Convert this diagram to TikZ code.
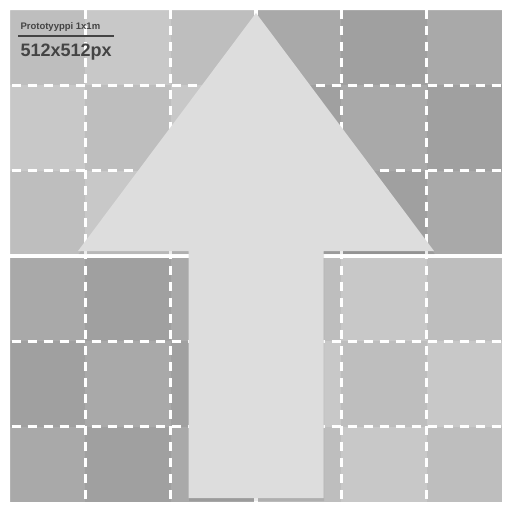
\documentclass[tikz,border=0pt]{standalone}
\usepackage{fontspec}
\setmainfont{Liberation Sans}
\usetikzlibrary{positioning}

\definecolor{arrowgray}{HTML}{DDDDDD}
\definecolor{inkgray}{HTML}{444444}

\begin{document}
\begin{tikzpicture}[x=1pt, y=-1pt,
    gridline/.style={white, line width=2.4pt, dash pattern=on 9pt off 7pt},
    midline/.style={white, line width=4pt},
    arrowbody/.style={fill=arrowgray},
    arrowshade/.style={fill=black, fill opacity=0.08},
    caption/.style={inkgray, inner sep=0pt, anchor=base west}]

    % Page
    \useasboundingbox (0,0) rectangle (512,512);
    \fill[white] (0,0) rectangle (512,512);

    % Tiles, 6 x 6
    \foreach \i in {0,...,5}{
        \foreach \j in {0,...,5}{
            \pgfmathtruncatemacro{\q}{mod(int(\i/3)+int(\j/3),2)}
            \pgfmathtruncatemacro{\p}{mod(\i+\j,2)}
            \pgfmathtruncatemacro{\k}{2*\q+\p}
            \ifcase\k \def\tone{BEBEBE}\or \def\tone{C8C8C8}\or \def\tone{A0A0A0}\or \def\tone{A9A9A9}\fi
            \definecolor{tile}{HTML}{\tone}
            \fill[tile] (\i*85.333,\j*85.333) rectangle ({(\i+1)*85.333},{(\j+1)*85.333});
        }
    }

    % White frame
    \fill[white, even odd rule] (0,0) rectangle (512,512) (10,10) rectangle (502,502);

    % Dashed tile lines
    \foreach \c in {85.333,170.667,341.333,426.667}{
        \draw[gridline] (\c,10) -- (\c,502);
        \draw[gridline] (11.5,\c) -- (502,\c);
    }

    % Quarter lines
    \draw[midline] (256,10) -- (256,502);
    \draw[midline] (10,256) -- (502,256);

    % Arrow
    \fill[arrowshade, shift={(0.7,3)}] (256,13) -- (434,251) -- (323.5,251) -- (323.5,498)
        -- (188.5,498) -- (188.5,251) -- (78,251) -- cycle;
    \fill[arrowbody] (256,13) -- (434,251) -- (323.5,251) -- (323.5,498)
        -- (188.5,498) -- (188.5,251) -- (78,251) -- cycle;

    % Labels
    \node[caption, font=\bfseries\fontsize{9.5}{11}\selectfont] (proto) at (20.3,29) {Prototyyppi 1x1m};
    \fill[inkgray] (18,34.5) rectangle (114,36.5);
    \node[caption, font=\bfseries\fontsize{18}{20}\selectfont] (size) at (20.3,56.3) {512x512px};
\end{tikzpicture}
\end{document}
